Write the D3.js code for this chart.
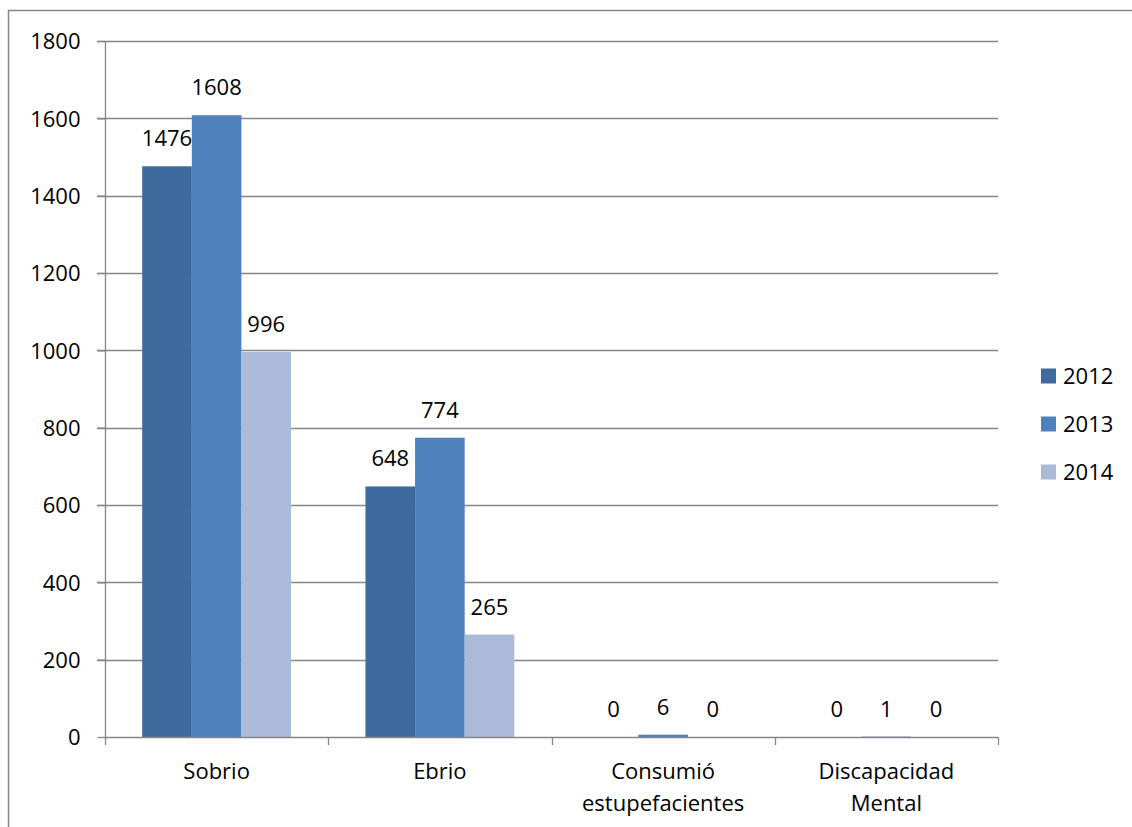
<!DOCTYPE html>
<html>
<head>
<meta charset="utf-8">
<script src="https://cdn.jsdelivr.net/npm/d3@7"></script>
<style>
  html, body { margin: 0; padding: 0; background: #fff; }
  svg { display: block; }
  text { font-family: "Open Sans", "Noto Sans", sans-serif; fill: #000; }
</style>
</head>
<body>
<svg id="chart" width="1132" height="827"></svg>
<script>
// Categories (multi-line labels split on "\n")
const categories = ["Sobrio", "Ebrio", "Consumió\nestupefacientes", "Discapacidad\nMental"];
const years = ["2012", "2013", "2014"];
const values2012 = [1476, 648, 0, 0];
const values2013 = [1608, 774, 6, 1];
const values2014 = [996, 265, 0, 0];
const yTicks = [0, 200, 400, 600, 800, 1000, 1200, 1400, 1600, 1800];
const colors = ["#3f6a9d", "#4f81bd", "#aabad8"];

const seriesValues = [values2012, values2013, values2014];
const rows = categories.map((c, i) => ({
  category: c,
  values: years.map((y, j) => ({ year: y, value: seriesValues[j][i] }))
}));

const svg = d3.select("#chart");
const W = 1132, H = 827;
const plot = { left: 105, right: 998, top: 41, bottom: 737 };
const fontSize = 22;
const gridColor = "#868686";

// Outer chart frame
svg.append("rect")
  .attr("x", 8.5).attr("y", 10.5)
  .attr("width", W + 10).attr("height", H + 10)
  .attr("fill", "none").attr("stroke", gridColor).attr("stroke-width", 1.5);

const x0 = d3.scaleBand().domain(categories).range([plot.left, plot.right]).paddingInner(0).paddingOuter(0);
// Bars fill 2/3 of each category (gap width 150%)
const x1 = d3.scaleBand().domain(years).range([0, x0.bandwidth()]).paddingInner(0).paddingOuter(0.75);
const y = d3.scaleLinear().domain([0, 1800]).range([plot.bottom, plot.top]);
const color = d3.scaleOrdinal().domain(years).range(colors);

// Horizontal gridlines
svg.append("g")
  .selectAll("line")
  .data(yTicks.filter(t => t > 0))
  .join("line")
  .attr("x1", plot.left - 8).attr("x2", plot.right)
  .attr("y1", d => Math.round(y(d)) + 0.5).attr("y2", d => Math.round(y(d)) + 0.5)
  .attr("stroke", gridColor).attr("stroke-width", 1.3);

// Bars
const groups = svg.append("g")
  .selectAll("g")
  .data(rows)
  .join("g")
  .attr("transform", d => `translate(${x0(d.category)},0)`);

groups.selectAll("rect")
  .data(d => d.values)
  .join("rect")
  .attr("x", d => x1(d.year))
  .attr("width", x1.bandwidth())
  .attr("y", d => y(d.value))
  .attr("height", d => plot.bottom - y(d.value))
  .attr("fill", d => color(d.year));

// Value labels
groups.selectAll("text.val")
  .data(d => d.values)
  .join("text")
  .attr("class", "val")
  .attr("x", d => x1(d.year) + x1.bandwidth() / 2)
  .attr("y", d => y(d.value) - 20)
  .attr("text-anchor", "middle")
  .attr("font-size", fontSize)
  .text(d => d.value);

// Y axis
const yAxis = d3.axisLeft(y).tickValues(yTicks).tickSize(8).tickPadding(17).tickFormat(d3.format("d"));
const gy = svg.append("g").attr("transform", `translate(${plot.left + 0.5},0)`).call(yAxis);
gy.select(".domain").attr("stroke", gridColor).attr("stroke-width", 1.3).attr("d", `M0,${plot.top}V${plot.bottom}`);
gy.selectAll(".tick line").attr("stroke", gridColor).attr("stroke-width", 1.3);
gy.selectAll(".tick text").attr("font-size", fontSize).attr("font-family", "\"Open Sans\", sans-serif").attr("fill", "#000").attr("dy", "0.36em");

// X axis line and category tick marks
svg.append("line")
  .attr("x1", plot.left).attr("x2", plot.right)
  .attr("y1", plot.bottom + 0.5).attr("y2", plot.bottom + 0.5)
  .attr("stroke", gridColor).attr("stroke-width", 1.3);
const boundaries = categories.map(c => x0(c)).concat([plot.right]);
svg.append("g").selectAll("line")
  .data(boundaries)
  .join("line")
  .attr("x1", d => Math.round(d) + 0.5).attr("x2", d => Math.round(d) + 0.5)
  .attr("y1", plot.bottom).attr("y2", plot.bottom + 8)
  .attr("stroke", gridColor).attr("stroke-width", 1.3);

// Category labels
svg.append("g").selectAll("text")
  .data(categories)
  .join("text")
  .attr("text-anchor", "middle")
  .attr("font-size", fontSize)
  .attr("x", d => x0(d) + x0.bandwidth() / 2)
  .attr("y", 779)
  .each(function(d) {
    const t = d3.select(this);
    d.split("\n").forEach((line, i) => {
      t.append("tspan")
        .attr("x", x0(d) + x0.bandwidth() / 2)
        .attr("dy", i === 0 ? 0 : 32)
        .text(line);
    });
  });

// Legend
const legend = svg.append("g").selectAll("g")
  .data(years)
  .join("g")
  .attr("transform", (d, i) => `translate(1041,${376 + i * 48})`);
legend.append("rect")
  .attr("x", 0).attr("y", -7.5).attr("width", 15).attr("height", 15)
  .attr("fill", d => color(d));
legend.append("text")
  .attr("x", 22).attr("y", 0).attr("dy", "0.36em")
  .attr("font-size", fontSize)
  .text(d => d);
</script>
</body>
</html>
